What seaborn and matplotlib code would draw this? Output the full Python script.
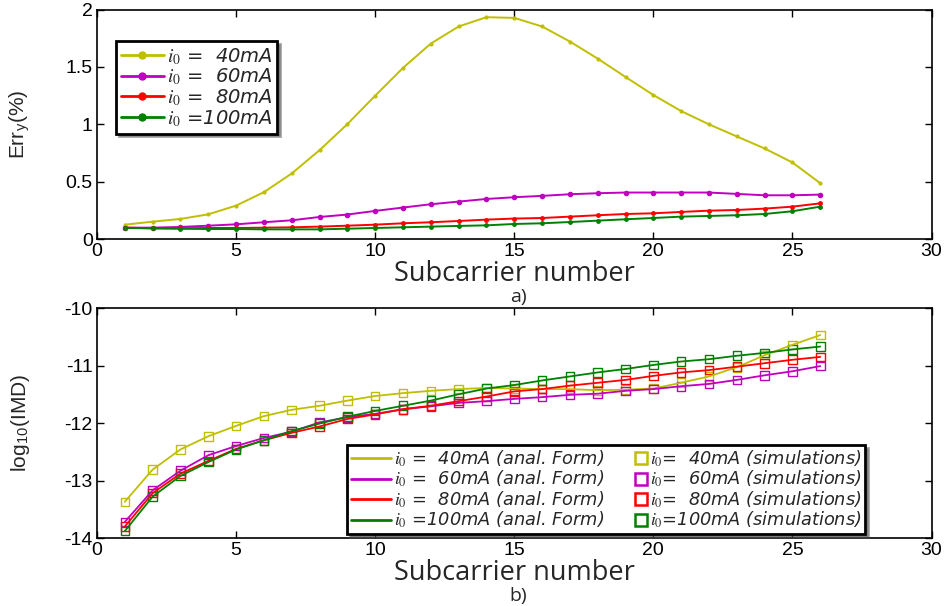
import numpy as np
import pandas as pd
import matplotlib
matplotlib.use("Agg")
import matplotlib.pyplot as plt
import seaborn as sns
from matplotlib.lines import Line2D
from matplotlib.legend_handler import HandlerLine2D

# Subcarrier indices
subcarriers = list(range(1, 27))

# Panel a) relative error Err_y (%) per bias current
err_40 = [0.125, 0.151, 0.175, 0.215, 0.291, 0.408, 0.571, 0.774, 1.001, 1.249,
          1.491, 1.703, 1.852, 1.933, 1.927, 1.852, 1.721, 1.572, 1.412, 1.255,
          1.115, 0.999, 0.894, 0.789, 0.667, 0.486]
err_60 = [0.099, 0.099, 0.105, 0.116, 0.128, 0.146, 0.163, 0.192, 0.213, 0.245,
          0.274, 0.303, 0.326, 0.349, 0.364, 0.376, 0.390, 0.399, 0.405, 0.405,
          0.405, 0.405, 0.393, 0.381, 0.381, 0.387]
err_80 = [0.099, 0.093, 0.093, 0.096, 0.096, 0.099, 0.102, 0.108, 0.116, 0.125,
          0.137, 0.146, 0.157, 0.169, 0.178, 0.183, 0.195, 0.207, 0.218, 0.224,
          0.236, 0.247, 0.253, 0.265, 0.282, 0.311]
err_100 = [0.096, 0.093, 0.090, 0.087, 0.087, 0.084, 0.084, 0.084, 0.090, 0.096,
           0.102, 0.108, 0.114, 0.119, 0.131, 0.137, 0.148, 0.160, 0.172, 0.183,
           0.195, 0.201, 0.207, 0.218, 0.242, 0.282]

# Panel b) log10(IMD), analytical formula
imd_40 = [-13.37, -12.81, -12.46, -12.23, -12.05, -11.88, -11.77, -11.70, -11.61, -11.53,
          -11.48, -11.44, -11.41, -11.39, -11.40, -11.41, -11.41, -11.43, -11.42, -11.40,
          -11.30, -11.19, -11.03, -10.82, -10.64, -10.47]
imd_60 = [-13.72, -13.17, -12.83, -12.56, -12.40, -12.26, -12.15, -11.99, -11.90, -11.84,
          -11.76, -11.71, -11.65, -11.62, -11.58, -11.55, -11.51, -11.49, -11.44, -11.41,
          -11.36, -11.32, -11.25, -11.17, -11.10, -11.01]
imd_80 = [-13.80, -13.22, -12.88, -12.66, -12.45, -12.30, -12.17, -12.06, -11.93, -11.85,
          -11.76, -11.70, -11.62, -11.54, -11.45, -11.41, -11.35, -11.30, -11.25, -11.18,
          -11.12, -11.08, -11.02, -10.96, -10.90, -10.85]
imd_100 = [-13.88, -13.28, -12.92, -12.68, -12.46, -12.30, -12.14, -12.01, -11.89, -11.79,
           -11.70, -11.61, -11.50, -11.40, -11.34, -11.26, -11.19, -11.12, -11.06, -10.99,
           -10.93, -10.89, -10.83, -10.78, -10.72, -10.67]

# Simulated IMD coincides with the analytical curves
sim_40, sim_60, sim_80, sim_100 = imd_40, imd_60, imd_80, imd_100

currents = ["40", "60", "80", "100"]
current_labels = [r"$\mathit{i_0}$ =  40mA", r"$\mathit{i_0}$ =  60mA",
                  r"$\mathit{i_0}$ =  80mA", r"$\mathit{i_0}$ =100mA"]
colors = ["#BFBF00", "#BF00BF", "#FF0000", "#008000"]

sns.set_theme(style="ticks")
plt.rcParams["font.family"] = ["Liberation Sans", "DejaVu Sans"]
plt.rcParams["mathtext.fontset"] = "stix"
plt.rcParams["axes.unicode_minus"] = False

fig = plt.figure(figsize=(9.49, 6.06), dpi=100)
ax1 = fig.add_axes([0.1022, 0.6056, 0.8794, 0.3787])
ax2 = fig.add_axes([0.1022, 0.1122, 0.8794, 0.3795])


def long_form(series, name):
    return pd.DataFrame({
        "subcarrier": subcarriers * len(series),
        name: sum(series, []),
        "current": sum([[c] * len(subcarriers) for c in currents], []),
    })


err_df = long_form([err_40, err_60, err_80, err_100], "err")
imd_df = long_form([imd_40, imd_60, imd_80, imd_100], "imd")
sim_df = long_form([sim_40, sim_60, sim_80, sim_100], "imd")
palette = dict(zip(currents, colors))

# Panel a
msizes = {"40": 6, "60": 8, "80": 7, "100": 7}
for c in currents:
    sns.lineplot(data=err_df[err_df.current == c], x="subcarrier", y="err",
                 color=palette[c], marker=".", markersize=msizes[c],
                 markeredgewidth=0, linewidth=1.4, ax=ax1, legend=False)

# Panel b
for c in currents:
    sns.lineplot(data=imd_df[imd_df.current == c], x="subcarrier", y="imd",
                 color=palette[c], linewidth=1.3, ax=ax2, legend=False)
for c in currents:
    sns.scatterplot(data=sim_df[sim_df.current == c], x="subcarrier", y="imd",
                    marker="s", s=38, facecolors="none", edgecolor=palette[c],
                    linewidth=1.0, ax=ax2, legend=False)

for ax in (ax1, ax2):
    ax.set_xlim(0, 30)
    ax.set_xticks(range(0, 31, 5))
    ax.tick_params(direction="in", top=True, right=True, length=5, width=1,
                   labelsize=14, colors="black", pad=3)
    for s in ax.spines.values():
        s.set_linewidth(1.2)
        s.set_color("black")
    ax.set_xlabel("Subcarrier number", fontfamily="Open Sans", fontsize=19.5,
                  labelpad=0)
    ax.yaxis.set_label_coords(-0.078, 0.5)

ax1.set_ylim(0, 2)
ax1.set_yticks([0, 0.5, 1, 1.5, 2])
ax1.set_yticklabels(["0", "0.5", "1", "1.5", "2"])
ax1.set_ylabel(r"Err$_\mathregular{y}$(%)", fontsize=15)

ax2.set_ylim(-14, -10)
ax2.set_yticks([-14, -13, -12, -11, -10])
ax2.set_ylabel(r"log$_\mathregular{10}$(IMD)", fontsize=15)

fig.text(0.546, 1 - 297 / 606, "a)", ha="center", va="center",
         fontfamily="Open Sans", fontsize=14)
fig.text(0.546, 1 - 596 / 606, "b)", ha="center", va="center",
         fontfamily="Open Sans", fontsize=14)


class MarkerAtRight(HandlerLine2D):
    """Legend handler that puts the single marker near the right end of the handle box."""

    def get_xdata(self, legend, xdescent, ydescent, width, height, fontsize):
        right = -xdescent + width
        xdata = [right - 0.7 * fontsize, right]
        return xdata, [right - 0.35 * fontsize]


# Legend a
h1 = [Line2D([], [], color=col, marker=".", markersize=10, linewidth=2)
      for col in colors]
leg1 = ax1.legend(h1, current_labels, loc="upper left",
                  bbox_to_anchor=(0.0228, 0.8627), borderaxespad=0,
                  prop={"family": ["DejaVu Sans"], "style": "italic", "size": 14},
                  frameon=True, fancybox=False, shadow=True,
                  framealpha=1, edgecolor="black", handlelength=2.2,
                  handletextpad=0.15, labelspacing=0.0, borderpad=0.25)
leg1.get_frame().set_linewidth(2)

# Legend b
ana = [Line2D([], [], color=col, linewidth=2) for col in colors]
sim = [Line2D([], [], color=col, marker="s", markersize=9, markerfacecolor="none",
              markeredgewidth=1.8, linestyle="none") for col in colors]
ana_labels = [l + " (anal. Form)" for l in current_labels]
sim_labels = [l.replace(" =", "=") + " (simulations)" for l in current_labels]
handler_map = {h: MarkerAtRight() for h in sim}
leg2 = ax2.legend(ana + sim, ana_labels + sim_labels, ncol=2, loc="upper left",
                  bbox_to_anchor=(0.2996, 0.4043), borderaxespad=0,
                  prop={"family": ["DejaVu Sans"], "style": "italic", "size": 12.8},
                  frameon=True, fancybox=False, shadow=True, framealpha=1,
                  edgecolor="black", handlelength=2.3, handletextpad=0.15,
                  labelspacing=0.0, borderpad=0.2, columnspacing=0.1,
                  handler_map=handler_map)
leg2.get_frame().set_linewidth(2)

fig.savefig("out.png", dpi=100)
